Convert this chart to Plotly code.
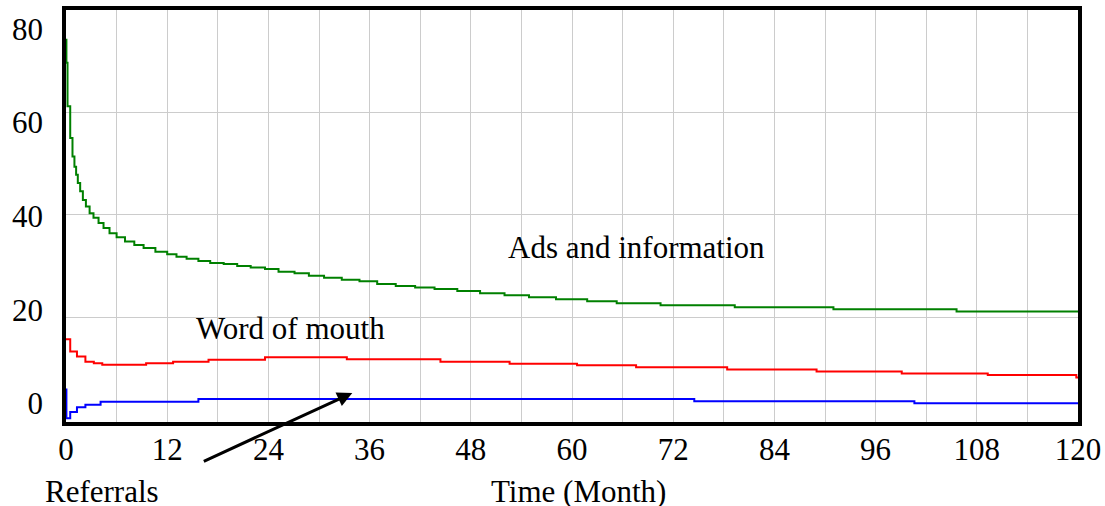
import plotly.graph_objects as go

# ---- data (months, value) ----
ads_t = [0, 0.05, 0.18, 0.5, 0.77, 1.0, 1.2, 1.4, 1.68, 2.0, 2.36, 2.8, 3.26, 3.86, 4.45, 5.16,
         6.0, 7.0, 8.1, 9.2, 10.6, 12.0, 13.1, 14.3, 15.7, 17.1, 18.7, 20.3, 21.9, 23.6, 25.2,
         27.1, 28.8, 30.6, 32.7, 34.8, 36.9, 39.1, 41.4, 43.7, 46.4, 49.1, 52.0, 54.9, 58.1,
         61.8, 65.3, 70.5, 79.3, 91.0, 105.6, 120]
ads_v = [74.2, 69.7, 61.2, 55.0, 51.4, 49.4, 47.8, 46.2, 44.6, 42.9, 41.6, 40.3, 39.4, 38.4, 37.4, 36.4,
         35.6, 34.8, 34.1, 33.5, 32.8, 32.3, 31.8, 31.4, 31.0, 30.6, 30.4, 30.0, 29.7, 29.4, 28.9,
         28.6, 28.1, 27.7, 27.3, 27.0, 26.5, 26.1, 25.8, 25.5, 25.1, 24.7, 24.3, 23.9, 23.5,
         23.1, 22.7, 22.35, 21.95, 21.55, 21.1, 21.1]

wom_t = [0, 0.5, 1.3, 2.3, 3.3, 4.3, 9.5, 12.7, 16.9, 23.6, 33.3, 44.4, 52.6, 60.6, 67.6,
         78.4, 89.0, 99.1, 109.3, 119.8, 120]
wom_v = [15.7, 13.3, 12.3, 11.3, 11.0, 10.7, 11.0, 11.3, 11.7, 12.2, 11.8, 11.3, 10.9, 10.6, 10.2,
         9.8, 9.4, 9.0, 8.7, 8.2, 8.2]

ref_t = [0, 0.05, 0.5, 1.3, 2.3, 4.1, 15.7, 74.5, 100.6, 120]
ref_v = [5.9, 0.25, 1.5, 2.4, 2.9, 3.5, 4.0, 3.6, 3.2, 3.2]

x_ticks = list(range(0, 121, 12))
y_grid = [20, 40, 60]
y_label_pos = [3.2, 21.4, 39.7, 58.0, 76.2]
y_label_text = ["0", "20", "40", "60", "80"]

FONT = "Liberation Serif, Times New Roman, serif"
FS = 31

fig = go.Figure()
for t, v, c in [(ads_t, ads_v, "#008000"), (wom_t, wom_v, "#ff0000"), (ref_t, ref_v, "#0000ff")]:
    fig.add_trace(go.Scatter(x=t, y=v, mode="lines", line=dict(color=c, width=2, shape="hv"),
                             showlegend=False, hoverinfo="skip"))

yr = [-0.47, 80]
fig.update_layout(
    width=1105, height=506,
    margin=dict(l=66, r=27, t=10, b=84, autoexpand=False),
    paper_bgcolor="white", plot_bgcolor="white",
    font=dict(family=FONT, size=FS, color="black"),
    xaxis=dict(range=[0, 120], tickmode="array", tickvals=x_ticks,
               ticktext=[str(v) for v in x_ticks],
               showgrid=True, gridcolor="#cccccc", gridwidth=1,
               minor=dict(dtick=6, showgrid=True, gridcolor="#cccccc", gridwidth=1),
               showline=True, mirror=True, linewidth=4, linecolor="black",
               zeroline=False, ticks="", ticklabelstandoff=-3,
               tickfont=dict(family=FONT, size=FS)),
    yaxis=dict(range=yr, tickmode="array", tickvals=y_grid, showticklabels=False,
               showgrid=True, gridcolor="#cccccc", gridwidth=1,
               showline=True, mirror=True, linewidth=4, linecolor="black",
               zeroline=False, ticks=""),
    yaxis2=dict(range=yr, overlaying="y", side="left", tickmode="array",
                tickvals=y_label_pos, ticktext=y_label_text, showgrid=False,
                zeroline=False, showline=False, ticks="", ticklabelstandoff=22,
                tickfont=dict(family=FONT, size=FS)),
)
# dummy trace to activate yaxis2
fig.add_trace(go.Scatter(x=[None], y=[None], yaxis="y2", showlegend=False, hoverinfo="skip"))

fig.add_annotation(x=67.6, y=33.7, text="Ads and information", showarrow=False,
                   font=dict(family=FONT, size=FS), xanchor="center", yanchor="middle")
fig.add_annotation(x=26.6, y=17.7, text="Word of mouth", showarrow=False,
                   font=dict(family=FONT, size=FS), xanchor="center", yanchor="middle")
fig.add_annotation(xref="paper", yref="paper", x=-0.0227, y=-0.1676, text="Referrals",
                   showarrow=False, font=dict(family=FONT, size=FS), xanchor="left", yanchor="middle")
fig.add_annotation(xref="paper", yref="paper", x=0.506, y=-0.1676, text="Time (Month)",
                   showarrow=False, font=dict(family=FONT, size=FS), xanchor="center", yanchor="middle")
fig.add_annotation(x=33.95, y=5.2, ax=-150, ay=69, text="", showarrow=True,
                   arrowhead=2, arrowsize=1, arrowwidth=3, arrowcolor="black")

fig.write_html("out.html", config={"displayModeBar": False},
               post_script="document.body.style.margin='0';")
